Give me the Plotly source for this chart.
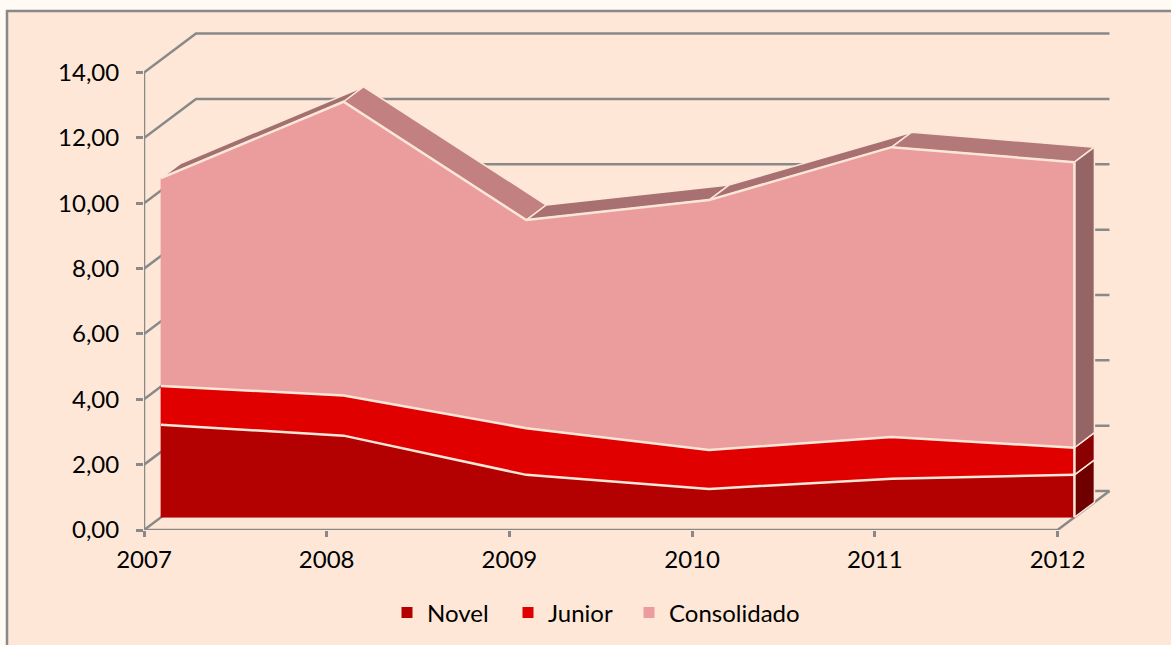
import plotly.graph_objects as go

# ---- data
years = [2007, 2008, 2009, 2010, 2011, 2012]
novel = [2.83, 2.50, 1.30, 0.87, 1.18, 1.30]
junior = [1.19, 1.23, 1.43, 1.19, 1.28, 0.83]
consolidado = [6.36, 8.99, 6.37, 7.65, 8.87, 8.74]
y_ticks = [0, 2, 4, 6, 8, 10, 12, 14]
y_labels = ["0,00", "2,00", "4,00", "6,00", "8,00", "10,00", "12,00", "14,00"]

# ---- styles
BG = "#FEE7D6"
OUTER = "#FFFAF3"
GRID = "#898989"
EDGE = "#FBE6D8"
FONT = "Lato"
front_cols = ["#B30000", "#E00000", "#EB9D9D"]
side_cols = ["#6E0000", "#8B0000", "#956565"]
top_cols = ["#A37070", "#C28080", "#A87070", "#A87070", "#B37878"]
names = ["Novel", "Junior", "Consolidado"]
legend_widths = [76, 76, 170]

W, H = 1171, 645
ML, MR, MT, MB = 144, 40, 20, 115
PX_YEAR, PX_UNIT = 182.7, 32.67
DX, DY = 52.0, 39.0          # oblique depth of the floor, pixels
T_FRONT, T_BACK = 0.325, 0.71  # depth of the area block


def proj(year, value, t):
    """Oblique projection to the 2D data axes."""
    return year + t * DX / PX_YEAR, value + t * DY / PX_UNIT


def poly(points, fill, line=EDGE, width=1.5):
    xs, ys = zip(*points)
    fig.add_trace(go.Scatter(x=list(xs) + [xs[0]], y=list(ys) + [ys[0]], mode="lines", fill="toself",
                             fillcolor=fill, line=dict(color=line, width=width), showlegend=False,
                             hoverinfo="skip", cliponaxis=False))


def line(points, color=GRID, width=2.5):
    xs, ys = zip(*points)
    fig.add_trace(go.Scatter(x=list(xs), y=list(ys), mode="lines", line=dict(color=color, width=width),
                             showlegend=False, hoverinfo="skip", cliponaxis=False))


fig = go.Figure()

# walls and floor
y0, y1 = years[0], years[-1]
for v in y_ticks:
    line([proj(y0, v, 0), proj(y0, v, 1), proj(y1, v, 1)])
line([proj(y0, 0, 0), proj(y0, 14, 0)])
line([proj(y0, 0, 0), proj(y1, 0, 0), proj(y1, 0, 1)])

# stacked tops
tops = []
base = [0.0] * len(years)
lowers = []
for s in (novel, junior, consolidado):
    lowers.append(base)
    base = [b + v for b, v in zip(base, s)]
    tops.append(base)

# top surface of the stack
top = tops[-1]
for i in range(len(years) - 1):
    poly([proj(years[i], top[i], T_FRONT), proj(years[i + 1], top[i + 1], T_FRONT),
          proj(years[i + 1], top[i + 1], T_BACK), proj(years[i], top[i], T_BACK)], top_cols[i])

# right side faces
for k in range(3):
    poly([proj(y1, lowers[k][-1], T_FRONT), proj(y1, tops[k][-1], T_FRONT),
          proj(y1, tops[k][-1], T_BACK), proj(y1, lowers[k][-1], T_BACK)], side_cols[k])

# front faces
for k in range(3):
    pts = [proj(y, v, T_FRONT) for y, v in zip(years, tops[k])]
    pts += [proj(y, v, T_FRONT) for y, v in zip(years[::-1], lowers[k][::-1])]
    poly(pts, front_cols[k], line=front_cols[k], width=0.5)
for k in range(3):
    line([proj(y, v, T_FRONT) for y, v in zip(years, tops[k])], color=EDGE, width=2.5)
line([proj(y1, 0, T_FRONT), proj(y1, top[-1], T_FRONT)], color=EDGE, width=2.5)

# legend entries
for k in range(3):
    fig.add_trace(go.Scatter(x=[None], y=[None], mode="markers", name=names[k], legendwidth=legend_widths[k],
                             marker=dict(symbol="square", size=11, color=front_cols[k])))

plot_w, plot_h = W - ML - MR, H - MT - MB
fig.update_layout(
    width=W, height=H, autosize=False,
    margin=dict(l=ML, r=MR, t=MT, b=MB, pad=0),
    paper_bgcolor=OUTER, plot_bgcolor="rgba(0,0,0,0)",
    font=dict(family=FONT, size=24, color="#000000"),
    xaxis=dict(range=[years[0], years[0] + plot_w / PX_YEAR], tickmode="array", tickvals=years,
               ticktext=[str(y) for y in years], ticks="outside", ticklen=6, tickwidth=2.5, tickcolor=GRID,
               showgrid=False, zeroline=False, showline=False, ticklabelstandoff=2),
    yaxis=dict(range=[0, plot_h / PX_UNIT], tickmode="array", tickvals=y_ticks, ticktext=y_labels,
               ticks="outside", ticklen=7, tickwidth=2.5, tickcolor=GRID, showgrid=False, zeroline=False,
               showline=False, ticklabelstandoff=12),
    legend=dict(orientation="h", xref="container", yref="container", x=387 / W, y=1 - 613 / H,
                xanchor="left", yanchor="middle", bgcolor="rgba(0,0,0,0)",
                font=dict(size=24), itemwidth=30),
    shapes=[dict(type="rect", xref="paper", yref="paper", layer="below",
                 x0=(7 - ML) / plot_w, x1=(1300 - ML) / plot_w,
                 y0=(H - MB - 760) / plot_h, y1=(H - MB - 11) / plot_h,
                 fillcolor=BG, line=dict(color=GRID, width=2.5))],
)

fig.write_html("out.html", config={"displayModeBar": False},
               post_script="document.body.style.margin='0';document.documentElement.style.overflow='hidden';")
